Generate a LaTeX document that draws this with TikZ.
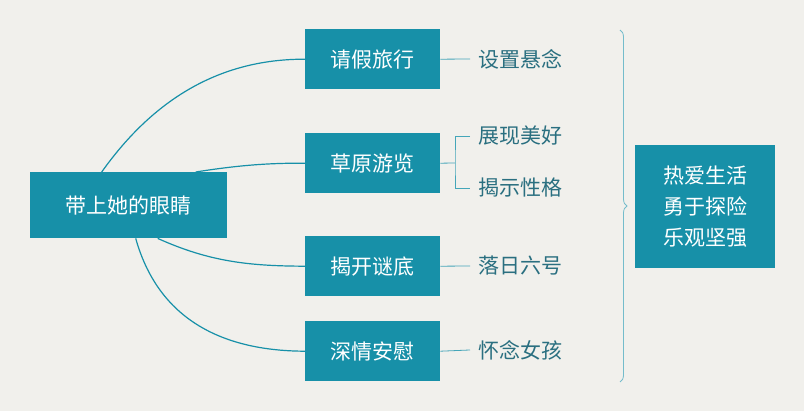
\documentclass[tikz,border=0pt]{standalone}
\usepackage{fontspec}
\setmainfont{Noto Sans CJK SC}
\usetikzlibrary{decorations.pathreplacing}
\definecolor{teal1}{HTML}{1790A8}
\definecolor{bgc}{HTML}{F1F0EC}
\definecolor{leafc}{HTML}{2A6F80}
\begin{document}
\begin{tikzpicture}[x=1pt,y=-1pt,
	box/.style={fill=teal1,text=white,font=\fontsize{21}{24}\selectfont,inner sep=0pt,anchor=north west},
	leaf/.style={text=leafc,font=\fontsize{21}{24}\selectfont,anchor=west,inner sep=0pt},
	link/.style={draw=teal1,line width=1.2pt}]
	\fill[bgc] (0,0) rectangle (804,411);
	\useasboundingbox (0,0) rectangle (804,411);
	\node[box,minimum width=197pt,minimum height=66pt] (root) at (30,172) {带上她的眼睛};
	\node[box,minimum width=135pt,minimum height=60pt] (b1) at (305,29) {请假旅行};
	\node[box,minimum width=135pt,minimum height=60pt] (b2) at (305,133) {草原游览};
	\node[box,minimum width=135pt,minimum height=60pt] (b3) at (305,236) {揭开谜底};
	\node[box,minimum width=135pt,minimum height=60pt] (b4) at (305,321) {深情安慰};
	\node[box,minimum width=140pt,minimum height=123pt,align=left,
		font=\fontsize{21}{31}\selectfont] (sum) at (635,145) {热爱生活\\勇于探险\\乐观坚强};
	\node[leaf] (l1) at (478,59) {设置悬念};
	\node[leaf] (l2) at (478,136) {展现美好};
	\node[leaf] (l3) at (478,188) {揭示性格};
	\node[leaf] (l4) at (478,266) {落日六号};
	\node[leaf] (l5) at (478,350) {怀念女孩};
	% curves from the root
	\draw[link] ([xshift=-27pt]root.north) .. controls (160,90) and (230,59) .. (b1.west);
	\draw[link] ([xshift=67pt]root.north) .. controls (240,165) and (270,163) .. (b2.west);
	\draw[link] ([xshift=29pt]root.south) .. controls (210,262) and (250,266) .. (b3.west);
	\draw[link] ([xshift=7pt]root.south) .. controls (160,325) and (230,351) .. (b4.west);
	% leaf lines
	\foreach \b/\l in {b1/l1, b3/l4, b4/l5}
	{	\draw[teal1!80,line width=0.8pt] (\b.east) -- ([xshift=-8pt]\l.west);
	}
	\draw[teal1!80,line width=0.8pt] (b2.east) -- (455,163);
	\draw[teal1!80,line width=0.8pt] ([xshift=-8pt]l2.west) -| (455,163) |- ([xshift=-8pt]l3.west);
	% brace
	\draw[teal1!60,line width=0.8pt,decorate,decoration={brace,amplitude=7pt}] (620,30) -- (620,382);
\end{tikzpicture}
\end{document}
